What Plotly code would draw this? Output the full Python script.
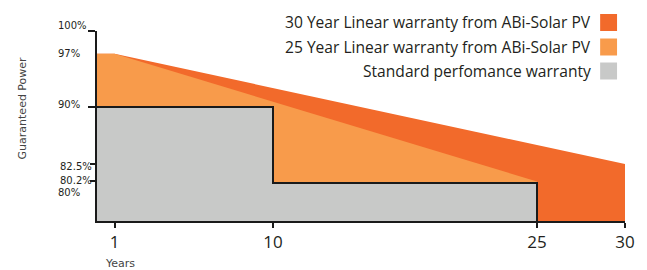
import plotly.graph_objects as go

# ---- data ----
years_30 = [0, 1, 30]
power_30 = [97, 97, 82.5]
years_25 = [0, 1, 25]
power_25 = [97, 97, 80.2]
years_std = [0, 10, 10, 25]
power_std = [90, 90, 80, 80]
x_ticks = [1, 10, 25, 30]
y_labels = [100, 97, 90, 82.5, 80.2, 80]
series_names = [
    "30 Year Linear warranty from ABi-Solar PV",
    "25 Year Linear warranty from ABi-Solar PV",
    "Standard perfomance warranty",
]

Y_MIN, Y_MAX = 75, 100
X_MIN, X_MAX = 0, 30

C_DARK = "#F26A2B"
C_LIGHT = "#F89B4B"
C_GREY = "#C8C9C8"
C_TEXT = "#231F20"

# page is rendered with an 8px body margin
OFF = 8
W, H = 647 - OFF, 270 - OFF
ML, MR, MT, MB = 97 - OFF, 19, 31 - OFF, 49
PW, PH = W - ML - MR, H - MT - MB


def px_x(px):  # page pixel -> paper x
    return (px - OFF - ML) / PW


def px_y(py):  # page pixel -> paper y
    return (H - MB - (py - OFF)) / PH


fig = go.Figure()
fig.add_trace(go.Scatter(x=years_30, y=power_30, fill="tozeroy", mode="lines",
                         line=dict(width=0), fillcolor=C_DARK, name=series_names[0],
                         showlegend=False))
fig.add_trace(go.Scatter(x=years_25, y=power_25, fill="tozeroy", mode="lines",
                         line=dict(width=0), fillcolor=C_LIGHT, name=series_names[1],
                         showlegend=False))
fig.add_trace(go.Scatter(x=years_std, y=power_std, fill="tozeroy", mode="lines",
                         line=dict(width=0), fillcolor=C_GREY, name=series_names[2],
                         showlegend=False))
# outline of the standard warranty block (down to the baseline)
fig.add_trace(go.Scatter(x=years_std + [years_std[-1]], y=power_std + [Y_MIN],
                         mode="lines", line=dict(color="#1a1a1a", width=2),
                         showlegend=False, hoverinfo="skip"))

annotations = []
# y-axis value labels (staggered like the reference)
yshift = {100: 6, 97: 0, 90: 3, 82.5: -2, 80.2: 1, 80: -9}
xleft = {100: 56, 97: 56, 90: 56, 82.5: 58, 80.2: 58, 80: 56}
for v in y_labels:
    annotations.append(dict(
        xref="paper", yref="y", x=px_x(xleft[v]), y=v, yshift=yshift.get(v, 0),
        xanchor="left", yanchor="middle", showarrow=False,
        text=f"{v}%", font=dict(family="DejaVu Sans", size=10, color=C_TEXT)))

annotations.append(dict(
    xref="paper", yref="paper", x=px_x(22), y=px_y(108), textangle=-90,
    xanchor="center", yanchor="middle",
    showarrow=False, text="Guaranteed Power",
    font=dict(family="DejaVu Sans", size=11, color="#444444")))
annotations.append(dict(
    xref="paper", yref="paper", x=px_x(120), y=px_y(263),
    xanchor="center", yanchor="middle",
    showarrow=False, text="Years",
    font=dict(family="DejaVu Sans", size=11, color="#444444")))

# custom legend (text on the left of the swatch)
legend_rows = [22.5, 47, 71]
colors = [C_DARK, C_LIGHT, C_GREY]
shapes = []
for name, col, cy in zip(series_names, colors, legend_rows):
    annotations.append(dict(
        xref="paper", yref="paper", x=px_x(596), y=px_y(cy),
        xanchor="right", yanchor="middle", showarrow=False, text=name,
        font=dict(family="Open Sans", size=15.6, color=C_TEXT)))
    shapes.append(dict(type="rect", xref="paper", yref="paper",
                       x0=px_x(603), x1=px_x(620), y0=px_y(cy + 8.5), y1=px_y(cy - 8.5),
                       fillcolor=col, line=dict(width=0)))

fig.update_layout(
    width=W, height=H,
    margin=dict(l=ML, r=MR, t=MT, b=MB),
    paper_bgcolor="white", plot_bgcolor="white",
    annotations=annotations, shapes=shapes,
    showlegend=False,
    xaxis=dict(range=[X_MIN, X_MAX], showgrid=False, zeroline=False,
               showline=True, linecolor="#1a1a1a", linewidth=2,
               ticks="outside", ticklen=5, tickwidth=2, tickcolor="#1a1a1a",
               tickvals=x_ticks, ticktext=[str(t) for t in x_ticks],
               tickfont=dict(family="Open Sans", size=17, color=C_TEXT)),
    yaxis=dict(range=[Y_MIN, Y_MAX], showgrid=False, zeroline=False,
               showline=True, linecolor="#1a1a1a", linewidth=2,
               ticks="outside", ticklen=7, tickwidth=2, tickcolor="#1a1a1a",
               tickvals=[100, 90], showticklabels=False,
               minor=dict(tickvals=[82.5, 80.2], ticks="outside", ticklen=5,
                          tickwidth=2, tickcolor="#1a1a1a", showgrid=False)),
)

fig.write_html("out.html")
